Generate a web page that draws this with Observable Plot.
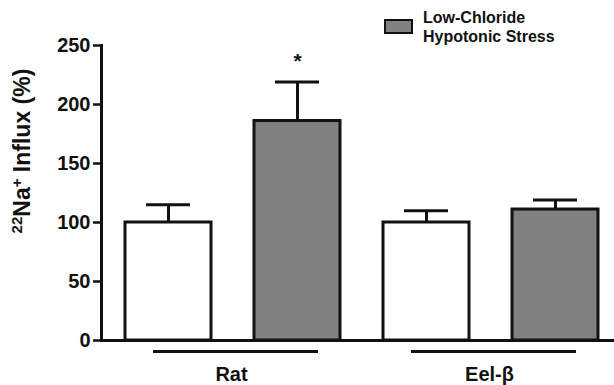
<!DOCTYPE html>
<html>
<head>
<meta charset="utf-8">
<script src="https://cdn.jsdelivr.net/npm/d3@7"></script>
<script src="https://cdn.jsdelivr.net/npm/@observablehq/plot@0.6"></script>
<style>
  body { margin: 0; background: #fff; }
  #wrap { position: relative; width: 614px; height: 385px; font-family: "Liberation Sans", Arial, sans-serif; }
  #legend { position: absolute; left: 384px; top: 8px; display: flex; align-items: flex-start; font-weight: bold; font-size: 16px; line-height: 19px; color: #111; }
  #legend .swatch { box-sizing: border-box; width: 29px; height: 15px; margin-top: 11px; margin-right: 10px; border: 2.5px solid #111; background: #808080; }
</style>
</head>
<body>
<div id="wrap"><div id="chart"></div><div id="legend"></div></div>
<script>
// ---- data ----
const barIds     = ["Rat control", "Rat stress", "Eel control", "Eel stress"];
const groups     = ["Rat", "Rat", "Eel-β", "Eel-β"];
const isStress   = [false, true, false, true];
const values     = [100, 186, 100, 111];
const errors     = [15, 33, 10, 8];
const significant = [false, true, false, false];
const groupLabels = ["Rat", "Eel-β"];
const yTicks     = [0, 50, 100, 150, 200, 250];
const yLabelParts = [["22", "sup"], ["Na", ""], ["+", "sup"], [" Influx (%)", ""]];
const legendLines = ["Low-Chloride", "Hypotonic Stress"];

const data = barIds.map((id, i) => ({id, group: groups[i], stress: isStress[i], value: values[i], err: errors[i], sig: significant[i]}));
const groupData = groupLabels.map(g => {
  const members = data.filter(d => d.group === g);
  return {group: g, first: members[0].id, last: members[members.length - 1].id};
});

const ink = "#111";
const font = "Liberation Sans, Arial, sans-serif";

const chart = Plot.plot({
  width: 614,
  height: 385,
  marginLeft: 101,
  marginRight: 0,
  marginTop: 45,
  marginBottom: 45,
  style: {fontFamily: font, background: "white", color: ink},
  x: {domain: barIds, paddingInner: 0.33, paddingOuter: 0.14, align: 0.61, axis: null},
  y: {domain: [0, 250], axis: null},
  marks: [
    Plot.barY(data, {x: "id", y: "value", fill: d => d.stress ? "#808080" : "white", stroke: ink, strokeWidth: 3}),
    Plot.ruleX(data, {x: "id", y1: "value", y2: d => d.value + d.err, stroke: ink, strokeWidth: 3}),
    Plot.tickY(data, {x: "id", y: d => d.value + d.err, insetLeft: 21, insetRight: 21, stroke: ink, strokeWidth: 3}),
    Plot.text(data.filter(d => d.sig), {x: "id", y: d => d.value + d.err, text: () => "*", dy: -21, fontSize: 21, fontWeight: "bold", fill: ink}),
    Plot.ruleY([0], {stroke: ink, strokeWidth: 3}),
    Plot.frame({anchor: "left", stroke: ink, strokeWidth: 3}),
    Plot.axisY({ticks: yTicks, tickSize: 8, tickPadding: 3, fontSize: 20, fontWeight: "bold", strokeWidth: 2.5, label: null, tickFormat: d => String(d)}),
    Plot.ruleY(groupData, {x1: "first", x2: "last", y: () => 0, dy: 11, insetLeft: 28, insetRight: 22, stroke: ink, strokeWidth: 3}),
    Plot.text(groupData, {x: "first", y: () => 0, text: "group", dx: 63, dy: 34, fontSize: 20, fontWeight: "bold", fill: ink}),
    Plot.text([yLabelParts.map(p => p[0]).join("")], {frameAnchor: "left", textAnchor: "middle", rotate: -90, dx: -79, dy: -42, fontSize: 23, fontWeight: "bold", fill: ink, className: "ylab"})
  ]
});
document.getElementById("chart").append(chart);

// superscripts in the y label
const t = d3.select(chart).select(".ylab text");
t.text(null);
let shifted = false;
yLabelParts.forEach(([s, kind]) => {
  const sp = t.append("tspan").text(s);
  if (kind === "sup") {
    sp.attr("font-size", 15).attr("dy", shifted ? 0 : -8);
    shifted = true;
  } else {
    if (shifted) sp.attr("dy", 8);
    shifted = false;
  }
});

// legend
const lg = document.getElementById("legend");
const sw = document.createElement("div"); sw.className = "swatch"; lg.append(sw);
const tx = document.createElement("div"); tx.innerHTML = legendLines.join("<br>"); lg.append(tx);
</script>
</body>
</html>
